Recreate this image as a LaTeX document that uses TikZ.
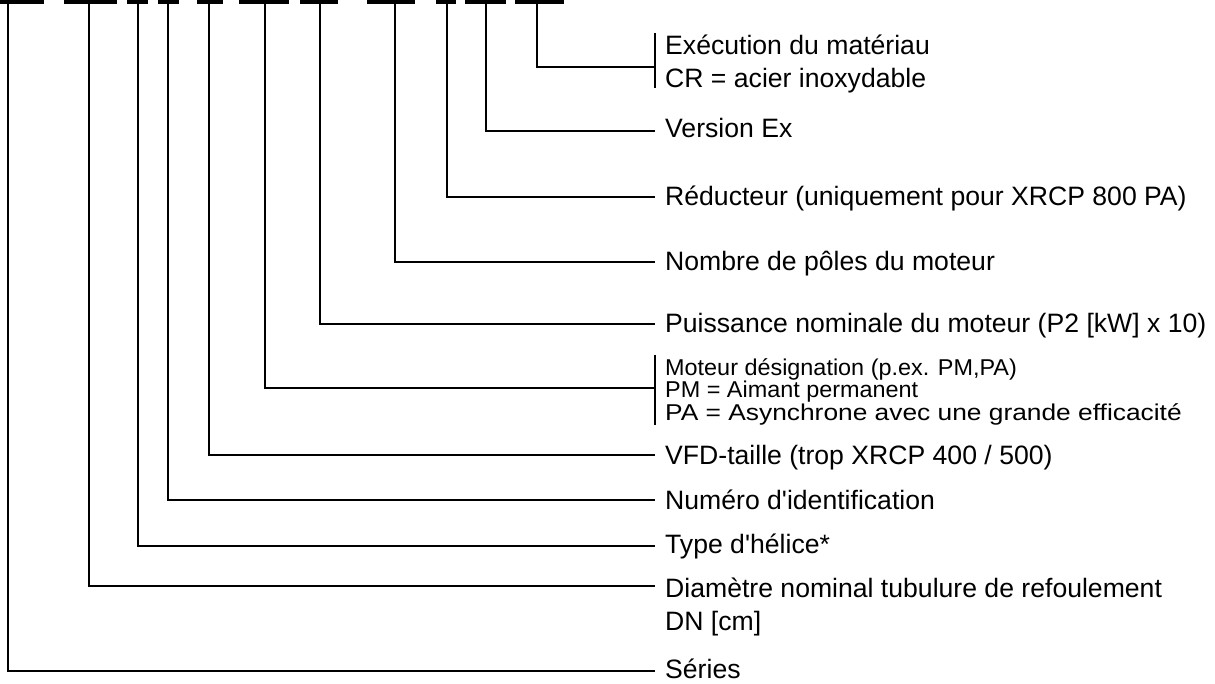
\documentclass[tikz,border=0pt]{standalone}
\usepackage{graphicx}
\usepackage{fontspec}
\newfontfamily\labfont{Liberation Sans}
\begin{document}
\begin{tikzpicture}[x=1pt,y=-1pt,
  lbl/.style={anchor=base west,inner sep=0pt,font=\labfont\fontsize{26.6}{30}\selectfont},
  conn/.style={line width=2pt,black},
  bar/.style={fill=black,draw=none,inner sep=0pt,minimum height=3.5pt,anchor=north west}]
\useasboundingbox (0,0) rectangle (1215,684);
% code bars
\foreach \n/\xl/\w in {1/0/44,2/64/53,3/127/21,4/158/21,5/197/26,6/239/50,7/300/38,8/367/48,9/436/20,10/465/41,11/515/49}{
  \node[bar,minimum width=\w pt] (b\n) at (\xl,0) {};
}
% tap points on bars and line ends
\foreach \n/\xv/\yl in {1/8/671,2/89/586,3/138/546,4/168/500,5/209/455,6/265/388,7/320/324,8/395/262,9/447/197,10/486/131,11/537/67}{
  \coordinate (t\n) at (\xv,0);
  \coordinate (e\n) at (655,\yl);
  \draw[conn] (t\n) |- (e\n);
}
% brackets
\coordinate (k11a) at (655,33);
\coordinate (k11b) at (655,88);
\draw[conn] (k11a) -- (k11b);
\coordinate (k6a) at (655,355);
\coordinate (k6b) at (655,425);
\draw[conn] (k6a) -- (k6b);
% labels
\node[lbl] (l11a) at (665,55) {Exécution du matériau};
\node[lbl] (l11b) at (665,88) {CR = acier inoxydable};
\node[lbl] (l10) at (665,138) {Version Ex};
\node[lbl] (l9) at (665,206) {Réducteur (uniquement pour XRCP 800 PA)};
\node[lbl] (l8) at (665,271) {Nombre de pôles du moteur};
\node[lbl] (l7) at (665,333) {Puissance nominale du moteur (P2 [kW] x 10)};
\node[lbl] (l6a) at (665,376) {\scalebox{0.88}[0.86]{Moteur désignation (p.ex. PM,PA)}};
\node[lbl] (l6b) at (665,397) {\scalebox{0.88}[0.86]{PM = Aimant permanent}};
\node[lbl] (l6c) at (665,420) {\scalebox{0.99}[0.86]{PA = Asynchrone avec une grande efficacité}};
\node[lbl] (l5) at (665,464) {VFD-taille (trop XRCP 400 / 500)};
\node[lbl] (l4) at (665,509) {Numéro d'identification};
\node[lbl] (l3) at (665,553) {Type d'hélice*};
\node[lbl] (l2a) at (665,597) {Diamètre nominal tubulure de refoulement};
\node[lbl] (l2b) at (665,630) {DN [cm]};
\node[lbl] (l1) at (665,678) {Séries};
\end{tikzpicture}
\end{document}
